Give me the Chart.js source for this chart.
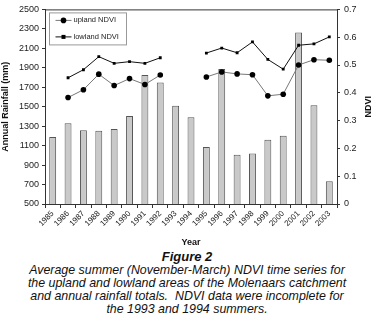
<!DOCTYPE html>
<html>
<head>
<meta charset="utf-8">
<script src="https://cdn.jsdelivr.net/npm/chart.js@4"></script>
<style>
  body { margin: 0; background: #fff; font-family: "Liberation Sans", Arial, sans-serif; }
  #wrap { position: relative; width: 374px; height: 250px; }
  .caption { width: 374px; text-align: center; color: #111; font-style: italic; }
  .fig { font-weight: bold; font-size: 13px; line-height: 14px; margin-top: 0px; }
  .txt { font-size: 12.4px; line-height: 13px; }
</style>
</head>
<body>
<div id="wrap"><canvas id="ndviChart" width="374" height="250"></canvas></div>
<div class="caption fig">Figure 2</div>
<div class="caption txt">Average summer (November-March) NDVI time series for<br>the upland and lowland areas of the Molenaars catchment<br>and annual rainfall totals.&nbsp; NDVI data were incomplete for<br>the 1993 and 1994 summers.</div>
<script>
const years = ['1985', '1986', '1987', '1988', '1989', '1990', '1991', '1992', '1993', '1994',
    '1995', '1996', '1997', '1998', '1999', '2000', '2001', '2002', '2003'];
const rainfall = [1188, 1330, 1258, 1252, 1272, 1405, 1827, 1748, 1510, 1391,
    1085, 1887, 1007, 1020, 1160, 1201, 2262, 1515, 735];
const uplandNdvi = [null, 0.383, 0.411, 0.467, 0.426, 0.451, 0.430, 0.464, null, null,
    0.457, 0.475, 0.468, 0.465, 0.389, 0.395, 0.500, 0.519, 0.517];
const lowlandNdvi = [null, 0.454, 0.483, 0.530, 0.506, 0.512, 0.506, 0.526, null, null,
    0.543, 0.561, 0.544, 0.583, 0.520, 0.485, 0.571, 0.576, 0.601];

const FONT = '"Liberation Sans", Arial, sans-serif';
Chart.defaults.font.family = FONT;
Chart.defaults.color = '#222';

// legend box inside the plot + top border + right axis title
const extras = {
    id: 'extras',
    afterDraw(chart) {
        const {ctx, chartArea} = chart;
        ctx.save();
        ctx.strokeStyle = '#333';
        ctx.lineWidth = 1;
        ctx.beginPath();
        ctx.moveTo(chartArea.left, chartArea.top + 0.5);
        ctx.lineTo(chartArea.right, chartArea.top + 0.5);
        ctx.stroke();

        // legend
        const bx = chartArea.left + 4.5, by = chartArea.top + 3.5;
        ctx.fillStyle = '#fff';
        ctx.fillRect(bx, by, 77, 32);
        ctx.strokeStyle = '#999';
        ctx.strokeRect(bx, by, 77, 32);
        const items = chart.data.datasets.filter(d => d.type === 'line');
        items.forEach((d, i) => {
            const y = by + 7.5 + i * 16.5;
            ctx.strokeStyle = d.borderColor;
            ctx.beginPath();
            ctx.moveTo(bx + 6, y);
            ctx.lineTo(bx + 22, y);
            ctx.stroke();
            ctx.fillStyle = '#000';
            if (d.pointStyle === 'rect') {
                ctx.fillRect(bx + 12, y - 2, 4, 4);
            } else {
                ctx.beginPath();
                ctx.arc(bx + 14, y, 2.8, 0, Math.PI * 2);
                ctx.fill();
            }
            ctx.font = '7.5px ' + FONT;
            ctx.textBaseline = 'middle';
            ctx.textAlign = 'left';
            ctx.fillStyle = '#222';
            ctx.fillText(d.label, bx + 24, y);
        });

        // NDVI title, reading upwards
        ctx.translate(369, (chartArea.top + chartArea.bottom) / 2);
        ctx.rotate(-Math.PI / 2);
        ctx.font = 'bold 9px ' + FONT;
        ctx.textAlign = 'center';
        ctx.textBaseline = 'middle';
        ctx.fillStyle = '#111';
        ctx.fillText('NDVI', 0, 0);
        ctx.restore();
    }
};

const config = {
    type: 'bar',
    data: {
        labels: years,
        datasets: [{
            type: 'line',
            label: 'upland NDVI',
            data: uplandNdvi,
            yAxisID: 'y1',
            borderColor: '#777',
            borderWidth: 1,
            pointStyle: 'circle',
            pointRadius: 2.8,
            pointBorderWidth: 0,
            pointBackgroundColor: '#000',
            pointBorderColor: '#000',
            spanGaps: false,
            order: 1
        }, {
            type: 'line',
            label: 'lowland NDVI',
            data: lowlandNdvi,
            yAxisID: 'y1',
            borderColor: '#111',
            borderWidth: 1,
            pointStyle: 'rect',
            pointRadius: 2,
            pointBorderWidth: 0,
            pointBackgroundColor: '#000',
            pointBorderColor: '#000',
            spanGaps: false,
            order: 1
        }, {
            type: 'bar',
            label: 'Annual rainfall',
            data: rainfall,
            yAxisID: 'y',
            backgroundColor: '#c9c9c9',
            borderColor: '#555',
            borderWidth: 1,
            borderSkipped: false,
            barPercentage: 0.45,
            categoryPercentage: 1,
            order: 2
        }]
    },
    options: {
        responsive: false,
        animation: false,
        layout: { padding: { top: 8, left: 0, right: 0, bottom: 0 } },
        plugins: {
            legend: { display: false },
            tooltip: { enabled: false }
        },
        scales: {
            x: {
                offset: true,
                grid: { display: true, offset: true, drawOnChartArea: false, drawTicks: true, tickLength: 4, color: '#333' },
                border: { color: '#333', width: 1 },
                ticks: { font: { size: 8 }, autoSkip: false, minRotation: 45, maxRotation: 45, padding: 1, color: '#222' },
                title: { display: true, text: 'Year', font: { size: 9, weight: 'bold' }, padding: { top: 0, bottom: 2 }, color: '#111' },
                afterFit: (s) => { s.height = 46; }
            },
            y: {
                position: 'left',
                min: 500,
                max: 2500,
                ticks: { stepSize: 200, font: { size: 9 }, padding: 3, color: '#222', callback: (v) => String(v) },
                grid: { drawOnChartArea: false, drawTicks: true, tickLength: 3, color: '#333' },
                border: { color: '#333', width: 1 },
                title: { display: true, text: 'Annual Rainfall (mm)', font: { size: 9, weight: 'bold' }, padding: 0, color: '#111' },
                afterFit: (s) => { s.width = 45; }
            },
            y1: {
                position: 'right',
                min: 0,
                max: 0.7,
                ticks: {
                    stepSize: 0.1,
                    font: { size: 9 },
                    padding: 4,
                    color: '#222',
                    callback: (v) => v === 0 ? '0' : v.toFixed(1)
                },
                grid: { drawOnChartArea: false, drawTicks: true, tickLength: 3, color: '#333' },
                border: { color: '#333', width: 1 },
                afterFit: (s) => { s.width = 37; }
            }
        }
    },
    plugins: [extras]
};

const ndviChart = new Chart(document.getElementById('ndviChart'), config);
</script>
</body>
</html>
